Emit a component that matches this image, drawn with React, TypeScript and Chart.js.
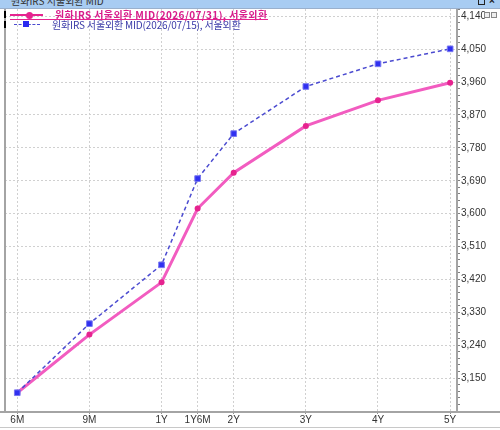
import React, { useEffect, useRef } from "react";
import { Chart, registerables } from "chart.js";

Chart.register(...registerables);

const CATEGORIES = ["6M", "9M", "1Y", "1Y6M", "2Y", "3Y", "4Y", "5Y"];
const X_POS = [0, 2, 4, 5, 6, 8, 10, 12];
const SERIES_0731 = [3110, 3269, 3412, 3614, 3712, 3840, 3910, 3958];
const SERIES_0715 = [3110, 3299, 3460, 3696, 3819, 3948, 4010, 4051];
const LABEL_0731 = "원화IRS 서울외환 MID(2026/07/31), 서울외환";
const LABEL_0715 = "원화IRS 서울외환 MID(2026/07/15), 서울외환";
const TITLE = "원화IRS 서울외환 MID";
const Y_MAJOR_START = 3150;
const Y_MAJOR_STEP = 90;
const Y_MINOR_STEP = 18;
const Y_MIN = 3060;
const Y_MAX = 4160;

const FONT_KR = '"Noto Sans CJK KR", "Noto Sans", sans-serif';

const framePlugin = {
  id: "frame",
  afterDraw(chart: any) {
    const { ctx, chartArea } = chart;
    ctx.save();
    ctx.strokeStyle = "#a4a4a4";
    ctx.lineWidth = 2;
    ctx.beginPath();
    ctx.moveTo(chartArea.left, chartArea.top);
    ctx.lineTo(chartArea.left, chartArea.bottom);
    ctx.moveTo(chartArea.right, chartArea.top);
    ctx.lineTo(chartArea.right, chartArea.bottom);
    ctx.moveTo(0, chartArea.bottom + 1);
    ctx.lineTo(chart.width, chartArea.bottom + 1);
    ctx.stroke();
    ctx.strokeStyle = "#c8c8c8";
    ctx.lineWidth = 1;
    ctx.beginPath();
    ctx.moveTo(0, chart.height - 2.5);
    ctx.lineTo(chart.width, chart.height - 2.5);
    ctx.stroke();
    ctx.restore();
  },
};

function ChartCanvas() {
  const ref = useRef<HTMLCanvasElement | null>(null);
  useEffect(() => {
    if (!ref.current) return;
    const yTicks: number[] = [];
    for (let v = Y_MAJOR_START - 4 * Y_MINOR_STEP; v < Y_MAX; v += Y_MINOR_STEP) yTicks.push(v);
    const isMajor = (v: number) => Math.abs((v - Y_MAJOR_START) % Y_MAJOR_STEP) < 0.001;
    const chart = new Chart(ref.current, {
      type: "line",
      data: {
        datasets: [
          {
            label: LABEL_0731,
            data: X_POS.map((x, i) => ({ x, y: SERIES_0731[i] })),
            borderColor: "#f25cc0",
            borderWidth: 3,
            pointRadius: 3,
            pointBackgroundColor: "#e6238f",
            pointBorderColor: "#e6238f",
            pointBorderWidth: 0,
            order: 1,
          },
          {
            label: LABEL_0715,
            data: X_POS.map((x, i) => ({ x, y: SERIES_0715[i] })),
            borderColor: "#4b4bd0",
            borderWidth: 1.5,
            borderDash: [4, 3],
            pointStyle: "rect",
            pointRadius: 4,
            pointBackgroundColor: "#3030f0",
            pointBorderColor: "#7878f2",
            pointBorderWidth: 1,
            order: 0,
          },
        ],
      },
      options: {
        animation: false,
        responsive: false,
        devicePixelRatio: 1,
        layout: { padding: { left: 3, top: 9, right: 0, bottom: 0 } },
        plugins: { legend: { display: false }, tooltip: { enabled: false } },
        scales: {
          x: {
            type: "linear",
            min: -0.34,
            max: 12.19,
            afterBuildTicks: (s: any) => {
              s.ticks = X_POS.map((v) => ({ value: v }));
            },
            afterFit: (s: any) => {
              s.height = 19;
            },
            grid: {
              color: "#d0d0d0",
              lineWidth: 1,
              drawTicks: true,
              tickLength: 3,
              tickColor: "#909090",
              tickWidth: 1,
            },
            border: { display: false, dash: [2, 2] },
            ticks: {
              autoSkip: false,
              maxRotation: 0,
              padding: 0,
              color: "#333",
              font: { family: "Liberation Sans", size: 10 },
              callback: (v: any) => {
                const i = X_POS.indexOf(Number(v));
                return i >= 0 ? CATEGORIES[i] : "";
              },
            },
          },
          y: {
            type: "linear",
            position: "right",
            min: Y_MIN,
            max: Y_MAX,
            afterBuildTicks: (s: any) => {
              s.ticks = yTicks.map((v) => ({ value: v }));
            },
            afterFit: (s: any) => {
              s.width = 43;
            },
            grid: {
              color: (c: any) => (c.tick && isMajor(c.tick.value) ? "#d0d0d0" : "rgba(0,0,0,0)"),
              lineWidth: 1,
              drawTicks: true,
              tickLength: 3,
              tickColor: "#808080",
              tickWidth: 1,
            },
            border: { display: false, dash: [2, 2] },
            ticks: {
              autoSkip: false,
              padding: 1,
              color: "#333",
              font: { family: "Liberation Sans", size: 10 },
              callback: (v: any) => (isMajor(Number(v)) ? Number(v).toLocaleString("en-US") : ""),
            },
          },
        },
      },
      plugins: [framePlugin],
    } as any);
    return () => chart.destroy();
  }, []);
  return <canvas ref={ref} width={500} height={430} style={{ display: "block" }} />;
}

export default function App() {
  const abs = (s: any) => ({ position: "absolute", ...s } as React.CSSProperties);
  return (
    <div style={{ position: "fixed", left: 0, top: 0, width: 500, height: 430, overflow: "hidden", background: "#fff" }}>
      <ChartCanvas />
      {/* title bar */}
      <div style={abs({ left: 0, top: 0, width: 500, height: 8, background: "#a8ccf2", borderBottom: "1px solid #9ab0cc", overflow: "hidden" })}>
        <span style={abs({ left: 11, top: -5, font: `10px ${FONT_KR}`, lineHeight: "12px", color: "#333", whiteSpace: "nowrap" })}>{TITLE}</span>
        <div style={abs({ left: 478, top: -2, width: 7, height: 7, border: "1px solid #222", boxSizing: "border-box" })} />
        <span style={abs({ left: 489, top: -5, font: `bold 10px Liberation Sans`, lineHeight: "12px", color: "#222" })}>×</span>
      </div>
      {/* small window icons near top right */}
      <div style={abs({ left: 484, top: 12, width: 6, height: 6, border: "1px solid #888", boxSizing: "border-box", background: "#eee" })} />
      <div style={abs({ left: 491, top: 12, width: 6, height: 6, border: "1px solid #888", boxSizing: "border-box", background: "#eee" })} />
      {/* legend row 1 */}
      <div style={abs({ left: 4, top: 11, width: 2, height: 7, background: "#000" })} />
      <div style={abs({ left: 10, top: 14, width: 33, height: 2, background: "#e6238f" })} />
      <div style={abs({ left: 26, top: 12, width: 7, height: 7, borderRadius: "50%", background: "#e6238f" })} />
      <span style={abs({ left: 55, top: 9, font: `bold 10px ${FONT_KR}`, lineHeight: "12px", letterSpacing: "0.4px", color: "#d81b8a", whiteSpace: "nowrap" })}>{LABEL_0731}</span>
      <div style={abs({ left: 10, top: 19, width: 258, height: 1, background: "#e6238f" })} />
      {/* legend row 2 */}
      <div style={abs({ left: 4, top: 21, width: 2, height: 7, background: "#000" })} />
      <div style={abs({ left: 14, top: 24, width: 26, height: 0, borderTop: "1.5px dashed #4b4bd0" })} />
      <div style={abs({ left: 23, top: 21, width: 6, height: 6, background: "#2a2af0" })} />
      <span style={abs({ left: 52, top: 19, font: `10px ${FONT_KR}`, lineHeight: "12px", letterSpacing: "-0.15px", color: "#3a3aa8", whiteSpace: "nowrap" })}>{LABEL_0715}</span>
    </div>
  );
}
